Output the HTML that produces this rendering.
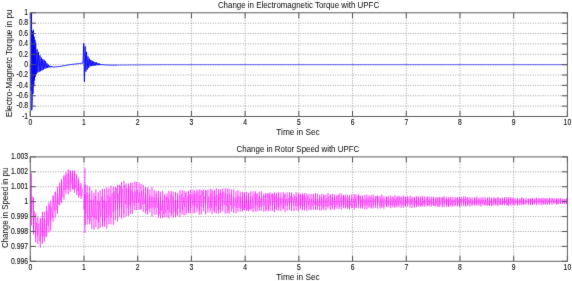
<!DOCTYPE html>
<html><head><meta charset="utf-8"><style>
html,body{margin:0;padding:0;background:#fff;}
svg{display:block;}
text{font-family:"Liberation Sans",sans-serif;}
</style></head><body>
<svg width="572" height="281" viewBox="0 0 572 281">
<defs><filter id="b" x="0" y="0" width="100%" height="100%" color-interpolation-filters="sRGB"><feConvolveMatrix order="3" kernelMatrix="0.0064 0.0672 0.0064 0.0672 0.7056 0.0672 0.0064 0.0672 0.0064" edgeMode="duplicate" preserveAlpha="true"/></filter></defs>
<rect width="572" height="281" fill="#fff"/>
<g filter="url(#b)">
<rect x="-10" y="-10" width="592" height="301" fill="#fff"/>
<path d="M84.01,12.8V116.5M137.72,12.8V116.5M191.43,12.8V116.5M245.14,12.8V116.5M298.85,12.8V116.5M352.56,12.8V116.5M406.27,12.8V116.5M459.98,12.8V116.5M513.69,12.8V116.5M30.3,23.17H567.4M30.3,33.54H567.4M30.3,43.91H567.4M30.3,54.28H567.4M30.3,64.65H567.4M30.3,75.02H567.4M30.3,85.39H567.4M30.3,95.76H567.4M30.3,106.13H567.4" stroke="#a0a0a0" stroke-width="1" stroke-dasharray="1 1.5" fill="none"/>
<polyline points="30.30,64.65 30.94,90.58 31.56,12.80 31.75,110.28 32.22,101.23 32.60,31.36 32.99,93.82 33.37,29.76 33.75,86.33 34.14,36.66 34.52,80.47 34.90,39.85 35.29,76.83 35.67,42.66 36.38,74.21 37.08,49.36 37.79,72.55 38.50,52.08 39.20,71.78 39.91,55.40 40.62,71.17 41.32,57.54 42.03,70.42 42.74,59.24 43.44,69.59 44.15,59.85 44.86,68.76 45.56,61.23 46.27,68.23 46.98,63.34 47.69,67.81 48.39,64.76 49.10,67.44 49.81,65.77 50.51,67.32 51.22,66.17 51.93,67.19 52.63,66.50 53.34,67.08 54.05,66.87 54.75,66.87 55.46,66.82 56.17,66.76 56.87,66.70 57.58,66.65 58.29,66.59 58.99,66.53 59.70,66.48 60.41,66.36 61.11,66.24 61.82,66.11 62.53,65.99 63.23,65.86 63.94,65.74 64.65,65.61 65.35,65.48 66.06,65.36 66.77,65.23 67.47,65.11 68.18,64.98 68.89,64.86 69.59,64.73 70.30,64.62 71.01,64.53 71.71,64.45 72.42,64.36 73.13,64.28 73.83,64.19 74.54,64.11 75.25,64.02 75.95,63.94 76.66,63.85 77.37,63.77 78.07,63.68 78.78,63.60 79.49,63.51 80.19,63.43 80.90,63.34 81.61,63.25 82.31,63.17 83.02,63.09 83.73,43.39 84.43,81.76 85.14,46.34 85.85,71.62 86.55,51.89 87.26,69.62 87.97,56.47 88.67,67.86 89.38,58.67 90.09,66.44 90.79,59.89 91.50,66.01 92.21,60.75 92.91,65.91 93.62,61.64 94.33,65.64 95.03,62.17 95.74,65.36 96.45,62.46 97.15,65.19 97.86,63.08 98.57,65.13 99.27,63.47 99.98,65.13 100.69,63.94 101.40,65.09 102.10,64.35 102.81,65.02 103.52,64.58 104.22,65.06 104.93,64.71 105.64,65.08 106.34,64.82 107.05,65.10 107.76,64.92 108.46,65.12 109.17,65.04 109.88,65.15 110.58,65.15 111.29,65.16 112.00,65.15 112.70,65.15 113.41,65.14 114.12,65.13 114.82,65.12 115.53,65.11 116.24,65.10 116.94,65.10" fill="none" stroke="#0000ff" stroke-width="0.9" stroke-linejoin="round"/>
<polyline points="116.94,65.10 117.65,65.09 118.36,65.08 119.06,65.07 119.77,65.06 120.48,65.05 121.18,65.04 121.89,65.04 122.60,65.03 123.30,65.02 124.01,65.01 124.72,65.00 125.42,64.99 126.13,64.98 126.84,64.98 127.54,64.97 128.25,64.96 128.96,64.95 129.66,64.94 130.37,64.93 131.08,64.92 131.78,64.92 132.49,64.91 133.20,64.90 133.90,64.90 134.61,64.89 135.32,64.89 136.02,64.88 136.73,64.87 137.44,64.87 138.14,64.86 138.85,64.86 139.56,64.85 140.26,64.85 140.97,64.84 141.68,64.83 142.38,64.83 143.09,64.82 143.80,64.82 144.50,64.81 145.21,64.81 145.92,64.80 146.62,64.79 147.33,64.79 148.04,64.78 148.74,64.78 149.45,64.77 150.16,64.77 150.86,64.76 151.57,64.75 152.28,64.75 152.98,64.74 153.69,64.74 154.40,64.73 155.11,64.73 155.81,64.72 156.52,64.71 157.23,64.71 157.93,64.70 158.64,64.70 159.35,64.69 160.05,64.69 160.76,64.68 161.47,64.68 162.17,64.67 162.88,64.66 163.59,64.66 164.29,64.65 165.00,64.65 165.71,64.65 166.41,64.65 167.12,64.65 167.83,64.65 168.53,64.65 169.24,64.65 169.95,64.65 170.65,64.65 171.36,64.65 172.07,64.65 172.77,64.65 173.48,64.65 174.19,64.65 174.89,64.65 175.60,64.65 176.31,64.65 177.01,64.65 177.72,64.65 178.43,64.65 179.13,64.65 179.84,64.65 180.55,64.65 181.25,64.65 181.96,64.65 182.67,64.65 183.37,64.65 184.08,64.65 184.79,64.65 185.49,64.65 186.20,64.65 186.91,64.65 187.61,64.65 188.32,64.65 189.03,64.65 189.73,64.65 190.44,64.65 191.15,64.65 191.85,64.65 192.56,64.65 193.27,64.65 193.97,64.65 194.68,64.65 195.39,64.65 196.09,64.65 196.80,64.65 197.51,64.65 198.21,64.65 198.92,64.65 199.63,64.65 200.33,64.65 201.04,64.65 201.75,64.65 202.45,64.65 203.16,64.65 203.87,64.65 204.57,64.65 205.28,64.65 205.99,64.65 206.69,64.65 207.40,64.65 208.11,64.65 208.82,64.65 209.52,64.65 210.23,64.65 210.94,64.65 211.64,64.65 212.35,64.65 213.06,64.65 213.76,64.65 214.47,64.65 215.18,64.65 215.88,64.65 216.59,64.65 217.30,64.65 218.00,64.65 218.71,64.65 219.42,64.65 220.12,64.65 220.83,64.65 221.54,64.65 222.24,64.65 222.95,64.65 223.66,64.65 224.36,64.65 225.07,64.65 225.78,64.65 226.48,64.65 227.19,64.65 227.90,64.65 228.60,64.65 229.31,64.65 230.02,64.65 230.72,64.65 231.43,64.65 232.14,64.65 232.84,64.65 233.55,64.65 234.26,64.65 234.96,64.65 235.67,64.65 236.38,64.65 237.08,64.65 237.79,64.65 238.50,64.65 239.20,64.65 239.91,64.65 240.62,64.65 241.32,64.65 242.03,64.65 242.74,64.65 243.44,64.65 244.15,64.65 244.86,64.65 245.56,64.65 246.27,64.65 246.98,64.65 247.68,64.65 248.39,64.65 249.10,64.65 249.80,64.65 250.51,64.65 251.22,64.65 251.92,64.65 252.63,64.65 253.34,64.65 254.04,64.65 254.75,64.65 255.46,64.65 256.16,64.65 256.87,64.65 257.58,64.65 258.28,64.65 258.99,64.65 259.70,64.65 260.40,64.65 261.11,64.65 261.82,64.65 262.53,64.65 263.23,64.65 263.94,64.65 264.65,64.65 265.35,64.65 266.06,64.65 266.77,64.65 267.47,64.65 268.18,64.65 268.89,64.65 269.59,64.65 270.30,64.65 271.01,64.65 271.71,64.65 272.42,64.65 273.13,64.65 273.83,64.65 274.54,64.65 275.25,64.65 275.95,64.65 276.66,64.65 277.37,64.65 278.07,64.65 278.78,64.65 279.49,64.65 280.19,64.65 280.90,64.65 281.61,64.65 282.31,64.65 283.02,64.65 283.73,64.65 284.43,64.65 285.14,64.65 285.85,64.65 286.55,64.65 287.26,64.65 287.97,64.65 288.67,64.65 289.38,64.65 290.09,64.65 290.79,64.65 291.50,64.65 292.21,64.65 292.91,64.65 293.62,64.65 294.33,64.65 295.03,64.65 295.74,64.65 296.45,64.65 297.15,64.65 297.86,64.65 298.57,64.65 299.27,64.65 299.98,64.65 300.69,64.65 301.39,64.65 302.10,64.65 302.81,64.65 303.51,64.65 304.22,64.65 304.93,64.65 305.63,64.65 306.34,64.65 307.05,64.65 307.75,64.65 308.46,64.65 309.17,64.65 309.87,64.65 310.58,64.65 311.29,64.65 311.99,64.65 312.70,64.65 313.41,64.65 314.11,64.65 314.82,64.65 315.53,64.65 316.24,64.65 316.94,64.65 317.65,64.65 318.36,64.65 319.06,64.65 319.77,64.65 320.48,64.65 321.18,64.65 321.89,64.65 322.60,64.65 323.30,64.65 324.01,64.65 324.72,64.65 325.42,64.65 326.13,64.65 326.84,64.65 327.54,64.65 328.25,64.65 328.96,64.65 329.66,64.65 330.37,64.65 331.08,64.65 331.78,64.65 332.49,64.65 333.20,64.65 333.90,64.65 334.61,64.65 335.32,64.65 336.02,64.65 336.73,64.65 337.44,64.65 338.14,64.65 338.85,64.65 339.56,64.65 340.26,64.65 340.97,64.65 341.68,64.65 342.38,64.65 343.09,64.65 343.80,64.65 344.50,64.65 345.21,64.65 345.92,64.65 346.62,64.65 347.33,64.65 348.04,64.65 348.74,64.65 349.45,64.65 350.16,64.65 350.86,64.65 351.57,64.65 352.28,64.65 352.98,64.65 353.69,64.65 354.40,64.65 355.10,64.65 355.81,64.65 356.52,64.65 357.22,64.65 357.93,64.65 358.64,64.65 359.34,64.65 360.05,64.65 360.76,64.65 361.46,64.65 362.17,64.65 362.88,64.65 363.58,64.65 364.29,64.65 365.00,64.65 365.70,64.65 366.41,64.65 367.12,64.65 367.82,64.65 368.53,64.65 369.24,64.65 369.95,64.65 370.65,64.65 371.36,64.65 372.07,64.65 372.77,64.65 373.48,64.65 374.19,64.65 374.89,64.65 375.60,64.65 376.31,64.65 377.01,64.65 377.72,64.65 378.43,64.65 379.13,64.65 379.84,64.65 380.55,64.65 381.25,64.65 381.96,64.65 382.67,64.65 383.37,64.65 384.08,64.65 384.79,64.65 385.49,64.65 386.20,64.65 386.91,64.65 387.61,64.65 388.32,64.65 389.03,64.65 389.73,64.65 390.44,64.65 391.15,64.65 391.85,64.65 392.56,64.65 393.27,64.65 393.97,64.65 394.68,64.65 395.39,64.65 396.09,64.65 396.80,64.65 397.51,64.65 398.21,64.65 398.92,64.65 399.63,64.65 400.33,64.65 401.04,64.65 401.75,64.65 402.45,64.65 403.16,64.65 403.87,64.65 404.57,64.65 405.28,64.65 405.99,64.65 406.69,64.65 407.40,64.65 408.11,64.65 408.81,64.65 409.52,64.65 410.23,64.65 410.93,64.65 411.64,64.65 412.35,64.65 413.05,64.65 413.76,64.65 414.47,64.65 415.17,64.65 415.88,64.65 416.59,64.65 417.29,64.65 418.00,64.65 418.71,64.65 419.41,64.65 420.12,64.65 420.83,64.65 421.53,64.65 422.24,64.65 422.95,64.65 423.66,64.65 424.36,64.65 425.07,64.65 425.78,64.65 426.48,64.65 427.19,64.65 427.90,64.65 428.60,64.65 429.31,64.65 430.02,64.65 430.72,64.65 431.43,64.65 432.14,64.65 432.84,64.65 433.55,64.65 434.26,64.65 434.96,64.65 435.67,64.65 436.38,64.65 437.08,64.65 437.79,64.65 438.50,64.65 439.20,64.65 439.91,64.65 440.62,64.65 441.32,64.65 442.03,64.65 442.74,64.65 443.44,64.65 444.15,64.65 444.86,64.65 445.56,64.65 446.27,64.65 446.98,64.65 447.68,64.65 448.39,64.65 449.10,64.65 449.80,64.65 450.51,64.65 451.22,64.65 451.92,64.65 452.63,64.65 453.34,64.65 454.04,64.65 454.75,64.65 455.46,64.65 456.16,64.65 456.87,64.65 457.58,64.65 458.28,64.65 458.99,64.65 459.70,64.65 460.40,64.65 461.11,64.65 461.82,64.65 462.52,64.65 463.23,64.65 463.94,64.65 464.64,64.65 465.35,64.65 466.06,64.65 466.76,64.65 467.47,64.65 468.18,64.65 468.88,64.65 469.59,64.65 470.30,64.65 471.00,64.65 471.71,64.65 472.42,64.65 473.12,64.65 473.83,64.65 474.54,64.65 475.24,64.65 475.95,64.65 476.66,64.65 477.37,64.65 478.07,64.65 478.78,64.65 479.49,64.65 480.19,64.65 480.90,64.65 481.61,64.65 482.31,64.65 483.02,64.65 483.73,64.65 484.43,64.65 485.14,64.65 485.85,64.65 486.55,64.65 487.26,64.65 487.97,64.65 488.67,64.65 489.38,64.65 490.09,64.65 490.79,64.65 491.50,64.65 492.21,64.65 492.91,64.65 493.62,64.65 494.33,64.65 495.03,64.65 495.74,64.65 496.45,64.65 497.15,64.65 497.86,64.65 498.57,64.65 499.27,64.65 499.98,64.65 500.69,64.65 501.39,64.65 502.10,64.65 502.81,64.65 503.51,64.65 504.22,64.65 504.93,64.65 505.63,64.65 506.34,64.65 507.05,64.65 507.75,64.65 508.46,64.65 509.17,64.65 509.87,64.65 510.58,64.65 511.29,64.65 511.99,64.65 512.70,64.65 513.41,64.65 514.11,64.65 514.82,64.65 515.53,64.65 516.23,64.65 516.94,64.65 517.65,64.65 518.35,64.65 519.06,64.65 519.77,64.65 520.47,64.65 521.18,64.65 521.89,64.65 522.59,64.65 523.30,64.65 524.01,64.65 524.71,64.65 525.42,64.65 526.13,64.65 526.83,64.65 527.54,64.65 528.25,64.65 528.95,64.65 529.66,64.65 530.37,64.65 531.08,64.65 531.78,64.65 532.49,64.65 533.20,64.65 533.90,64.65 534.61,64.65 535.32,64.65 536.02,64.65 536.73,64.65 537.44,64.65 538.14,64.65 538.85,64.65 539.56,64.65 540.26,64.65 540.97,64.65 541.68,64.65 542.38,64.65 543.09,64.65 543.80,64.65 544.50,64.65 545.21,64.65 545.92,64.65 546.62,64.65 547.33,64.65 548.04,64.65 548.74,64.65 549.45,64.65 550.16,64.65 550.86,64.65 551.57,64.65 552.28,64.65 552.98,64.65 553.69,64.65 554.40,64.65 555.10,64.65 555.81,64.65 556.52,64.65 557.22,64.65 557.93,64.65 558.64,64.65 559.34,64.65 560.05,64.65 560.76,64.65 561.46,64.65 562.17,64.65 562.88,64.65 563.58,64.65 564.29,64.65 565.00,64.65 565.70,64.65 566.41,64.65 567.12,64.65 567.82,64.65" fill="none" stroke="#0000ff" stroke-width="0.65" stroke-linejoin="round"/>
<path d="M30.30,12.8v5.5M30.30,116.5v-5.5M84.01,12.8v5.5M84.01,116.5v-5.5M137.72,12.8v5.5M137.72,116.5v-5.5M191.43,12.8v5.5M191.43,116.5v-5.5M245.14,12.8v5.5M245.14,116.5v-5.5M298.85,12.8v5.5M298.85,116.5v-5.5M352.56,12.8v5.5M352.56,116.5v-5.5M406.27,12.8v5.5M406.27,116.5v-5.5M459.98,12.8v5.5M459.98,116.5v-5.5M513.69,12.8v5.5M513.69,116.5v-5.5M567.40,12.8v5.5M567.40,116.5v-5.5M30.3,12.80h5.5M567.4,12.80h-5.5M30.3,23.17h5.5M567.4,23.17h-5.5M30.3,33.54h5.5M567.4,33.54h-5.5M30.3,43.91h5.5M567.4,43.91h-5.5M30.3,54.28h5.5M567.4,54.28h-5.5M30.3,64.65h5.5M567.4,64.65h-5.5M30.3,75.02h5.5M567.4,75.02h-5.5M30.3,85.39h5.5M567.4,85.39h-5.5M30.3,95.76h5.5M567.4,95.76h-5.5M30.3,106.13h5.5M567.4,106.13h-5.5M30.3,116.50h5.5M567.4,116.50h-5.5" stroke="#555" stroke-width="1" fill="none"/>
<rect x="30.3" y="12.8" width="537.1" height="103.7" fill="none" stroke="#606060" stroke-width="1.0"/>
<path d="M84.01,156.9V261.3M137.72,156.9V261.3M191.43,156.9V261.3M245.14,156.9V261.3M298.85,156.9V261.3M352.56,156.9V261.3M406.27,156.9V261.3M459.98,156.9V261.3M513.69,156.9V261.3M30.3,171.81H567.4M30.3,186.73H567.4M30.3,201.64H567.4M30.3,216.56H567.4M30.3,231.47H567.4M30.3,246.39H567.4" stroke="#a0a0a0" stroke-width="1" stroke-dasharray="1 1.5" fill="none"/>
<polyline points="30.30,185.15 31.35,212.78 32.40,196.43 33.45,232.40 34.50,211.15 35.55,237.79 36.59,222.52 37.64,236.22 38.69,223.58 39.74,241.19 40.79,218.53 41.84,235.93 42.89,217.64 43.94,236.74 44.99,219.68 46.04,237.27 47.08,210.81 48.13,225.77 49.18,204.92 50.23,220.92 51.28,206.86 52.33,217.74 53.38,196.03 54.43,210.54 55.48,191.77 56.53,209.64 57.57,193.23 58.62,204.46 59.67,186.78 60.72,200.46 61.77,181.57 62.82,197.21 63.87,176.61 64.92,190.05 65.97,174.61 67.02,188.90 68.06,173.33 69.11,189.77 70.16,170.71 71.21,184.35 72.26,173.36 73.31,189.44 74.36,173.09 75.41,188.61 76.46,175.55 77.51,191.09 78.56,181.86 79.60,195.45 80.65,185.35 81.70,196.53 82.75,188.17 83.80,209.76 84.85,194.30 85.90,213.49 86.95,192.32 88.00,218.76 89.05,193.93 90.09,221.57 91.14,199.14 92.19,216.82 93.24,199.60 94.29,218.23 95.34,195.96 96.39,219.62 97.44,200.44 98.49,222.03 99.54,201.52 100.58,216.92 101.63,196.44 102.68,223.06 103.73,200.06 104.78,221.37 105.83,201.62 106.88,217.98 107.93,195.43 108.98,215.39 110.03,196.60 111.07,217.58 112.12,193.34 113.17,212.17 114.22,191.27 115.27,210.34 116.32,187.99 117.37,210.35 118.42,193.69 119.47,209.20 120.52,186.30 121.57,208.84 122.61,188.91 123.66,213.78 124.71,185.16 125.76,204.50 126.81,188.01 127.86,208.28 128.91,186.64 129.96,205.53 131.01,189.78 132.06,202.45 133.10,192.05 134.15,205.95 135.20,191.77 136.25,202.92 137.30,190.22 138.35,202.43 139.40,192.92 140.45,208.92 141.50,190.79 142.55,204.61 143.59,189.55 144.64,203.90 145.69,193.35 146.74,211.05 147.79,189.51 148.84,209.46 149.89,195.65 150.94,207.87 151.99,196.73 153.04,207.76 154.08,197.37 155.13,207.71 156.18,193.92 157.23,208.11 158.28,197.76 159.33,214.03 160.38,197.20 161.43,210.80 162.48,199.49 163.53,214.42 164.58,196.24 165.62,212.92 166.67,196.55 167.72,209.77 168.77,198.78 169.82,212.62 170.87,194.29 171.92,213.83 172.97,196.19 174.02,211.68 175.07,199.99 176.11,213.71 177.16,199.45 178.21,208.63 179.26,195.18 180.31,212.41 181.36,194.19 182.41,209.78 183.46,197.52 184.51,206.80 185.56,192.96 186.60,212.18 187.65,196.28 188.70,211.07 189.75,194.89 190.80,207.25 191.85,193.92 192.90,205.25 193.95,194.30 195.00,206.41 196.05,192.64 197.09,208.24 198.14,191.68 199.19,210.63 200.24,195.05 201.29,206.84 202.34,191.24 203.39,208.18 204.44,196.37 205.49,205.37 206.54,190.92 207.58,208.60 208.63,196.61 209.68,208.16 210.73,193.87 211.78,207.68 212.83,191.14 213.88,210.77 214.93,196.15 215.98,205.91 217.03,194.43 218.08,210.03 219.12,193.12 220.17,209.37 221.22,193.40 222.27,206.21 223.32,191.93 224.37,205.01 225.42,192.79 226.47,206.10 227.52,194.30 228.57,210.67 229.61,194.06 230.66,205.30 231.71,194.85 232.76,208.75 233.81,197.10 234.86,206.42 235.91,197.44 236.96,208.01 238.01,195.55 239.06,207.78 240.10,196.16 241.15,208.59 242.20,196.96 243.25,209.88 244.30,192.92 245.35,207.65 246.40,195.69 247.45,209.53 248.50,196.74 249.55,209.19 250.59,196.88 251.64,208.72 252.69,196.67 253.74,208.09 254.79,193.74 255.84,205.31 256.89,194.37 257.94,207.71 258.99,196.53 260.04,206.73 261.09,198.08 262.13,206.24 263.18,195.40 264.23,205.43 265.28,195.21 266.33,209.60 267.38,193.74 268.43,209.20 269.48,194.62 270.53,205.74 271.58,193.88 272.62,205.83 273.67,194.40 274.72,209.00 275.77,195.61 276.82,207.28 277.87,197.62 278.92,207.23 279.97,197.23 281.02,205.37 282.07,198.01 283.11,208.46 284.16,194.37 285.21,205.39 286.26,198.57 287.31,205.92 288.36,198.04 289.41,205.55 290.46,196.03 291.51,206.58 292.56,196.76 293.60,205.57 294.65,195.74 295.70,205.92 296.75,196.95 297.80,206.66 298.85,194.76 299.90,205.67 300.95,195.61 302.00,205.92 303.05,194.89 304.10,206.25 305.14,196.61 306.19,208.30 307.24,195.93 308.29,204.91 309.34,198.24 310.39,208.68 311.44,198.72 312.49,205.73 313.54,194.84 314.59,204.50 315.63,198.20 316.68,205.31 317.73,198.54 318.78,206.34 319.83,196.48 320.88,205.68 321.93,198.48 322.98,207.65 324.03,195.69 325.08,206.60 326.12,198.41 327.17,206.49 328.22,196.47 329.27,206.00 330.32,195.59 331.37,205.82 332.42,197.02 333.47,204.71 334.52,196.86 335.57,207.22 336.61,196.25 337.66,205.21 338.71,195.29 339.76,206.96 340.81,197.51 341.86,205.76 342.91,196.20 343.96,204.83 345.01,196.77 346.06,206.83 347.11,197.27 348.15,207.36 349.20,197.48 350.25,205.82 351.30,198.19 352.35,207.44 353.40,198.11 354.45,206.58 355.50,197.80 356.55,207.40 357.60,195.92 358.64,204.14 359.69,195.81 360.74,206.15 361.79,199.08 362.84,205.73 363.89,199.19 364.94,205.88 365.99,198.75 367.04,205.22 368.09,198.37 369.13,205.99 370.18,196.65 371.23,207.08 372.28,198.35 373.33,205.81 374.38,199.46 375.43,205.12 376.48,196.34 377.53,204.26 378.58,196.69 379.62,205.97 380.67,198.60 381.72,206.33 382.77,198.64 383.82,206.66 384.87,199.33 385.92,204.17 386.97,197.26 388.02,205.18 389.07,199.18 390.12,205.35 391.16,198.74 392.21,205.42 393.26,197.42 394.31,206.32 395.36,199.52 396.41,205.48 397.46,196.79 398.51,205.05 399.56,197.47 400.61,203.95 401.65,197.22 402.70,205.34 403.75,197.22 404.80,205.89 405.85,197.33 406.90,203.78 407.95,197.79 409.00,204.16 410.05,199.08 411.10,204.50 412.14,198.18 413.19,205.32 414.24,197.25 415.29,203.59 416.34,199.32 417.39,204.54 418.44,197.61 419.49,205.03 420.54,198.47 421.59,205.58 422.63,198.10 423.68,204.27 424.73,199.65 425.78,204.72 426.83,197.53 427.88,205.06 428.93,199.76 429.98,204.61 431.03,198.89 432.08,204.96 433.12,198.37 434.17,205.90 435.22,199.04 436.27,204.46 437.32,198.34 438.37,205.67 439.42,198.12 440.47,204.57 441.52,197.86 442.57,204.59 443.62,197.51 444.66,204.05 445.71,199.64 446.76,205.41 447.81,199.22 448.86,205.42 449.91,198.46 450.96,204.55 452.01,199.77 453.06,205.21 454.11,199.83 455.15,205.62 456.20,197.86 457.25,203.98 458.30,199.70 459.35,205.36 460.40,198.86 461.45,203.51 462.50,198.84 463.55,203.78 464.60,199.07 465.64,204.69 466.69,197.89 467.74,205.04 468.79,199.67 469.84,204.26 470.89,198.92 471.94,205.41 472.99,199.86 474.04,204.29 475.09,197.99 476.13,204.01 477.18,199.49 478.23,204.34 479.28,199.37 480.33,205.14 481.38,199.91 482.43,203.51 483.48,199.92 484.53,204.61 485.58,199.47 486.63,204.99 487.67,198.17 488.72,205.03 489.77,199.57 490.82,202.99 491.87,199.30 492.92,205.02 493.97,198.52 495.02,203.08 496.07,198.67 497.12,204.85 498.16,198.13 499.21,204.40 500.26,198.37 501.31,204.63 502.36,199.43 503.41,203.08 504.46,198.69 505.51,203.14 506.56,199.40 507.61,204.83 508.65,199.07 509.70,203.86 510.75,198.32 511.80,203.37 512.85,198.24 513.90,204.56 514.95,199.50 516.00,203.40 517.05,199.96 518.10,204.50 519.14,199.86 520.19,202.75 521.24,198.55 522.29,203.84 523.34,198.97 524.39,204.06 525.44,200.15 526.49,202.85 527.54,199.33 528.59,202.75 529.64,199.33 530.68,203.97 531.73,199.08 532.78,203.72 533.83,200.18 534.88,203.03 535.93,198.69 536.98,202.81 538.03,199.35 539.08,202.66 540.13,198.67 541.17,202.85 542.22,199.59 543.27,203.46 544.32,199.08 545.37,204.08 546.42,199.07 547.47,203.07 548.52,200.18 549.57,203.64 550.62,198.73 551.66,202.49 552.71,199.07 553.76,202.73 554.81,199.59 555.86,203.25 556.91,199.36 557.96,203.95 559.01,199.27 560.06,203.00 561.11,199.25 562.15,203.08 563.20,199.72 564.25,202.91 565.30,199.62 566.35,202.76" fill="none" stroke="#ff00ff" stroke-width="0.5" stroke-opacity="0.7" stroke-linejoin="round"/>
<path d="M31.37,173.31V225.51M33.47,197.54V234.51M35.77,213.55V242.20M37.85,216.72V243.96M40.27,217.92V247.58M42.42,211.74V243.61M44.32,211.42V241.58M46.61,206.11V236.37M48.90,202.41V232.40M50.78,200.65V230.80M53.03,195.33V221.92M55.12,191.68V217.66M57.38,186.49V213.99M59.68,182.43V205.36M61.42,178.95V203.01M63.98,175.31V199.79M65.98,172.28V193.65M68.20,169.36V194.23M70.27,170.52V191.91M72.54,170.36V189.37M74.41,170.42V192.71M76.75,173.99V195.07M78.68,177.77V197.48M80.95,182.97V198.87M84.90,168.09V232.96M85.10,184.32V225.14M87.18,185.25V224.59M89.70,186.61V224.30M91.85,190.35V228.87M93.93,192.91V229.41M95.91,189.33V227.24M98.23,192.39V229.11M100.09,190.26V228.03M102.53,188.86V226.89M104.64,188.67V226.81M106.81,187.37V228.80M108.87,188.43V224.30M110.91,185.68V224.35M113.31,186.59V224.83M115.33,186.72V220.31M117.62,184.83V221.50M119.58,184.90V216.84M121.59,182.11V218.66M123.97,181.02V217.53M126.16,183.56V216.31M128.46,183.42V215.76M130.59,182.84V213.63M132.33,182.84V213.99M134.84,181.38V210.06M136.73,181.91V210.29M139.10,182.52V209.83M141.09,184.02V209.93M143.21,184.86V211.92M145.44,187.08V213.66M147.62,187.34V214.54M149.85,189.43V212.30M151.97,186.96V216.35M154.14,189.76V214.27M156.14,191.14V214.95M158.44,190.99V217.55M160.42,191.60V218.27M162.70,190.86V218.26M164.78,194.09V217.22M166.98,193.23V217.36M168.86,190.83V218.40M171.25,190.97V216.33M173.26,191.75V217.59M175.49,191.97V217.15M177.49,192.89V215.72M179.93,190.18V216.70M182.20,190.12V214.50M184.08,190.59V215.37M186.10,191.39V214.60M188.51,190.73V213.07M190.41,189.79V213.37M192.95,189.75V213.40M194.71,190.67V213.14M196.98,189.49V211.67M199.20,189.35V214.63M201.16,189.89V214.52M203.41,189.56V211.34M205.54,189.74V214.38M207.91,189.58V212.95M210.19,188.76V211.55M212.03,189.17V213.88M214.40,190.18V212.54M216.22,188.16V213.46M218.59,189.11V213.81M220.67,189.29V212.81M222.74,188.44V211.14M225.16,188.47V213.65M227.27,188.37V213.13M229.12,188.69V213.76M231.35,189.39V211.60M233.76,189.48V213.14M236.00,191.46V213.31M237.96,189.99V211.63M240.24,191.57V211.71M242.44,191.77V211.40M244.47,192.37V210.36M246.57,191.77V210.95M248.51,193.03V211.17M250.74,191.43V210.46M253.01,191.24V212.24M255.31,191.22V211.23M257.15,193.06V211.57M259.35,191.71V210.73M261.31,191.22V210.89M263.80,193.47V211.89M265.82,193.09V211.06M268.15,192.94V211.34M270.02,192.47V210.82M272.38,193.30V211.11M274.54,192.38V211.95M276.58,192.95V210.23M278.59,192.19V210.84M280.85,192.57V211.21M283.17,192.23V209.60M285.04,193.41V211.78M287.15,192.29V210.55M289.48,192.28V209.84M291.52,192.37V211.08M293.95,194.06V211.14M296.11,191.95V210.62M298.32,192.92V211.26M300.42,193.71V209.18M302.47,193.37V210.19M304.39,193.22V210.65M306.86,193.28V210.99M308.96,193.98V210.27M311.12,193.99V210.12M313.25,193.81V209.56M315.47,192.90V209.92M317.35,193.74V209.83M319.69,194.71V210.57M321.76,193.82V210.32M323.82,194.44V210.06M325.96,194.91V210.41M328.03,192.82V208.45M330.35,194.40V209.94M332.43,193.93V209.21M334.61,194.38V209.77M336.98,195.10V208.73M339.04,193.35V209.04M341.19,193.35V209.73M343.49,194.99V208.01M345.26,194.56V208.50M347.55,194.71V208.85M349.50,195.19V209.54M351.80,194.25V208.29M354.23,194.08V209.34M355.94,194.18V208.13M358.43,194.43V208.19M360.63,195.78V208.62M362.60,195.42V208.76M364.90,194.93V209.13M366.87,194.63V209.07M368.98,195.29V207.81M371.20,195.24V208.68M373.20,194.57V208.42M375.40,196.14V207.90M377.55,195.75V208.55M380.04,195.78V208.70M381.87,194.58V207.90M383.96,196.00V208.61M386.47,196.38V207.16M388.22,195.79V207.18M390.78,195.46V208.14M392.88,196.37V207.30M394.92,195.27V207.72M396.96,196.40V207.51M399.00,195.62V206.88M401.10,196.57V207.82M403.25,195.47V207.73M405.52,196.62V206.72M407.70,195.83V206.86M410.11,195.70V207.67M412.07,196.64V207.80M414.45,196.92V207.69M416.46,196.18V207.08M418.32,196.35V206.84M420.68,196.41V206.92M422.63,195.98V206.48M424.72,196.49V206.92M427.32,196.48V206.48M429.17,196.52V206.35M431.24,196.60V206.64M433.35,196.70V206.14M435.78,197.09V206.69M437.83,196.92V206.98M439.76,196.99V206.88M442.26,197.04V207.29M444.18,196.32V207.12M446.59,197.29V206.72M448.59,197.19V207.05M450.77,196.77V206.38M452.88,197.10V206.83M455.14,197.23V206.09M457.45,197.08V206.38M459.50,196.93V206.95M461.28,196.73V206.40M463.65,196.37V206.24M465.67,196.56V206.57M467.75,197.14V205.91M469.95,197.15V206.54M472.12,197.22V205.46M474.63,197.48V205.70M476.67,196.61V205.59M478.88,197.75V205.65M480.95,197.61V206.47M482.91,197.07V205.29M485.10,197.19V205.60M487.27,197.60V205.89M489.35,196.84V206.00M491.56,197.50V206.04M493.89,197.31V205.53M495.69,197.93V205.31M497.94,197.03V206.00M500.19,197.97V205.11M502.44,197.67V205.01M504.57,197.15V205.16M506.76,197.11V205.41M508.60,197.19V205.87M510.79,197.31V205.59M513.00,197.99V205.36M515.14,198.23V205.27M517.53,197.82V205.41M519.80,198.26V205.29M521.79,197.34V204.95M523.62,198.36V204.66M525.90,198.06V204.73M528.30,198.22V205.27M530.51,198.43V205.08M532.50,197.98V205.20M534.52,198.42V204.42M536.68,197.65V205.21M538.97,197.89V204.67M541.23,198.22V205.14M543.12,197.81V204.78M545.20,197.88V204.70M547.25,198.35V204.91M549.47,197.90V204.68M551.98,197.87V204.68M554.01,198.18V204.18M556.35,198.45V204.53M558.03,197.99V204.28M560.33,197.99V203.99M562.70,198.54V204.00M564.78,198.78V204.25M566.63,198.16V204.04" fill="none" stroke="#ff00ff" stroke-width="0.8"/>
<path d="M30.30,156.9v5.5M30.30,261.3v-5.5M84.01,156.9v5.5M84.01,261.3v-5.5M137.72,156.9v5.5M137.72,261.3v-5.5M191.43,156.9v5.5M191.43,261.3v-5.5M245.14,156.9v5.5M245.14,261.3v-5.5M298.85,156.9v5.5M298.85,261.3v-5.5M352.56,156.9v5.5M352.56,261.3v-5.5M406.27,156.9v5.5M406.27,261.3v-5.5M459.98,156.9v5.5M459.98,261.3v-5.5M513.69,156.9v5.5M513.69,261.3v-5.5M567.40,156.9v5.5M567.40,261.3v-5.5M30.3,156.90h5.5M567.4,156.90h-5.5M30.3,171.81h5.5M567.4,171.81h-5.5M30.3,186.73h5.5M567.4,186.73h-5.5M30.3,201.64h5.5M567.4,201.64h-5.5M30.3,216.56h5.5M567.4,216.56h-5.5M30.3,231.47h5.5M567.4,231.47h-5.5M30.3,246.39h5.5M567.4,246.39h-5.5M30.3,261.30h5.5M567.4,261.30h-5.5" stroke="#555" stroke-width="1" fill="none"/>
<rect x="30.3" y="156.9" width="537.1" height="104.4" fill="none" stroke="#606060" stroke-width="1.0"/>
<g opacity="0.99"><text transform="translate(30.30,124.80) scale(0.8,1)" font-size="8.5" text-anchor="middle" fill="#000" stroke="#000" stroke-width="0.1">0</text>
<text transform="translate(84.01,124.80) scale(0.8,1)" font-size="8.5" text-anchor="middle" fill="#000" stroke="#000" stroke-width="0.1">1</text>
<text transform="translate(137.72,124.80) scale(0.8,1)" font-size="8.5" text-anchor="middle" fill="#000" stroke="#000" stroke-width="0.1">2</text>
<text transform="translate(191.43,124.80) scale(0.8,1)" font-size="8.5" text-anchor="middle" fill="#000" stroke="#000" stroke-width="0.1">3</text>
<text transform="translate(245.14,124.80) scale(0.8,1)" font-size="8.5" text-anchor="middle" fill="#000" stroke="#000" stroke-width="0.1">4</text>
<text transform="translate(298.85,124.80) scale(0.8,1)" font-size="8.5" text-anchor="middle" fill="#000" stroke="#000" stroke-width="0.1">5</text>
<text transform="translate(352.56,124.80) scale(0.8,1)" font-size="8.5" text-anchor="middle" fill="#000" stroke="#000" stroke-width="0.1">6</text>
<text transform="translate(406.27,124.80) scale(0.8,1)" font-size="8.5" text-anchor="middle" fill="#000" stroke="#000" stroke-width="0.1">7</text>
<text transform="translate(459.98,124.80) scale(0.8,1)" font-size="8.5" text-anchor="middle" fill="#000" stroke="#000" stroke-width="0.1">8</text>
<text transform="translate(513.69,124.80) scale(0.8,1)" font-size="8.5" text-anchor="middle" fill="#000" stroke="#000" stroke-width="0.1">9</text>
<text transform="translate(567.40,124.80) scale(0.8,1)" font-size="8.5" text-anchor="middle" fill="#000" stroke="#000" stroke-width="0.1">10</text>
<text transform="translate(28.10,15.10) scale(0.8,1)" font-size="8.5" text-anchor="end" fill="#000" stroke="#000" stroke-width="0.1">1</text>
<text transform="translate(28.10,25.47) scale(0.8,1)" font-size="8.5" text-anchor="end" fill="#000" stroke="#000" stroke-width="0.1">0.8</text>
<text transform="translate(28.10,35.84) scale(0.8,1)" font-size="8.5" text-anchor="end" fill="#000" stroke="#000" stroke-width="0.1">0.6</text>
<text transform="translate(28.10,46.21) scale(0.8,1)" font-size="8.5" text-anchor="end" fill="#000" stroke="#000" stroke-width="0.1">0.4</text>
<text transform="translate(28.10,56.58) scale(0.8,1)" font-size="8.5" text-anchor="end" fill="#000" stroke="#000" stroke-width="0.1">0.2</text>
<text transform="translate(28.10,66.95) scale(0.8,1)" font-size="8.5" text-anchor="end" fill="#000" stroke="#000" stroke-width="0.1">0</text>
<text transform="translate(28.10,77.32) scale(0.8,1)" font-size="8.5" text-anchor="end" fill="#000" stroke="#000" stroke-width="0.1">-0.2</text>
<text transform="translate(28.10,87.69) scale(0.8,1)" font-size="8.5" text-anchor="end" fill="#000" stroke="#000" stroke-width="0.1">-0.4</text>
<text transform="translate(28.10,98.06) scale(0.8,1)" font-size="8.5" text-anchor="end" fill="#000" stroke="#000" stroke-width="0.1">-0.6</text>
<text transform="translate(28.10,108.43) scale(0.8,1)" font-size="8.5" text-anchor="end" fill="#000" stroke="#000" stroke-width="0.1">-0.8</text>
<text transform="translate(28.10,118.80) scale(0.8,1)" font-size="8.5" text-anchor="end" fill="#000" stroke="#000" stroke-width="0.1">-1</text>
<text transform="translate(30.30,269.60) scale(0.8,1)" font-size="8.5" text-anchor="middle" fill="#000" stroke="#000" stroke-width="0.1">0</text>
<text transform="translate(84.01,269.60) scale(0.8,1)" font-size="8.5" text-anchor="middle" fill="#000" stroke="#000" stroke-width="0.1">1</text>
<text transform="translate(137.72,269.60) scale(0.8,1)" font-size="8.5" text-anchor="middle" fill="#000" stroke="#000" stroke-width="0.1">2</text>
<text transform="translate(191.43,269.60) scale(0.8,1)" font-size="8.5" text-anchor="middle" fill="#000" stroke="#000" stroke-width="0.1">3</text>
<text transform="translate(245.14,269.60) scale(0.8,1)" font-size="8.5" text-anchor="middle" fill="#000" stroke="#000" stroke-width="0.1">4</text>
<text transform="translate(298.85,269.60) scale(0.8,1)" font-size="8.5" text-anchor="middle" fill="#000" stroke="#000" stroke-width="0.1">5</text>
<text transform="translate(352.56,269.60) scale(0.8,1)" font-size="8.5" text-anchor="middle" fill="#000" stroke="#000" stroke-width="0.1">6</text>
<text transform="translate(406.27,269.60) scale(0.8,1)" font-size="8.5" text-anchor="middle" fill="#000" stroke="#000" stroke-width="0.1">7</text>
<text transform="translate(459.98,269.60) scale(0.8,1)" font-size="8.5" text-anchor="middle" fill="#000" stroke="#000" stroke-width="0.1">8</text>
<text transform="translate(513.69,269.60) scale(0.8,1)" font-size="8.5" text-anchor="middle" fill="#000" stroke="#000" stroke-width="0.1">9</text>
<text transform="translate(567.40,269.60) scale(0.8,1)" font-size="8.5" text-anchor="middle" fill="#000" stroke="#000" stroke-width="0.1">10</text>
<text transform="translate(28.10,159.20) scale(0.8,1)" font-size="8.5" text-anchor="end" fill="#000" stroke="#000" stroke-width="0.1">1.003</text>
<text transform="translate(28.10,174.11) scale(0.8,1)" font-size="8.5" text-anchor="end" fill="#000" stroke="#000" stroke-width="0.1">1.002</text>
<text transform="translate(28.10,189.03) scale(0.8,1)" font-size="8.5" text-anchor="end" fill="#000" stroke="#000" stroke-width="0.1">1.001</text>
<text transform="translate(28.10,203.94) scale(0.8,1)" font-size="8.5" text-anchor="end" fill="#000" stroke="#000" stroke-width="0.1">1</text>
<text transform="translate(28.10,218.86) scale(0.8,1)" font-size="8.5" text-anchor="end" fill="#000" stroke="#000" stroke-width="0.1">0.999</text>
<text transform="translate(28.10,233.77) scale(0.8,1)" font-size="8.5" text-anchor="end" fill="#000" stroke="#000" stroke-width="0.1">0.998</text>
<text transform="translate(28.10,248.69) scale(0.8,1)" font-size="8.5" text-anchor="end" fill="#000" stroke="#000" stroke-width="0.1">0.997</text>
<text transform="translate(28.10,263.60) scale(0.8,1)" font-size="8.5" text-anchor="end" fill="#000" stroke="#000" stroke-width="0.1">0.996</text>
<text transform="translate(298.50,7.80) scale(0.8336842105263158,1)" font-size="9.5" text-anchor="middle" fill="#000">Change in Electromagnetic Torque with UPFC</text>
<text transform="translate(297.90,151.60) scale(0.8336842105263158,1)" font-size="9.5" text-anchor="middle" fill="#000">Change in Rotor Speed with UPFC</text>
<text transform="translate(298.00,135.20) scale(0.8715789473684211,1)" font-size="9.5" text-anchor="middle" fill="#000">Time in Sec</text>
<text transform="translate(298.00,279.90) scale(0.8715789473684211,1)" font-size="9.5" text-anchor="middle" fill="#000">Time in Sec</text>
<text transform="translate(12.30,63.30) rotate(-90) scale(0.8715789473684211,1)" font-size="9.5" text-anchor="middle" fill="#000">Electro-Magnetc Torque in pu</text>
<text transform="translate(8.30,207.85) rotate(-90) scale(0.8336842105263158,1)" font-size="9.5" text-anchor="middle" fill="#000">Change in Speed in pu</text></g>
</g>
</svg>
</body></html>
